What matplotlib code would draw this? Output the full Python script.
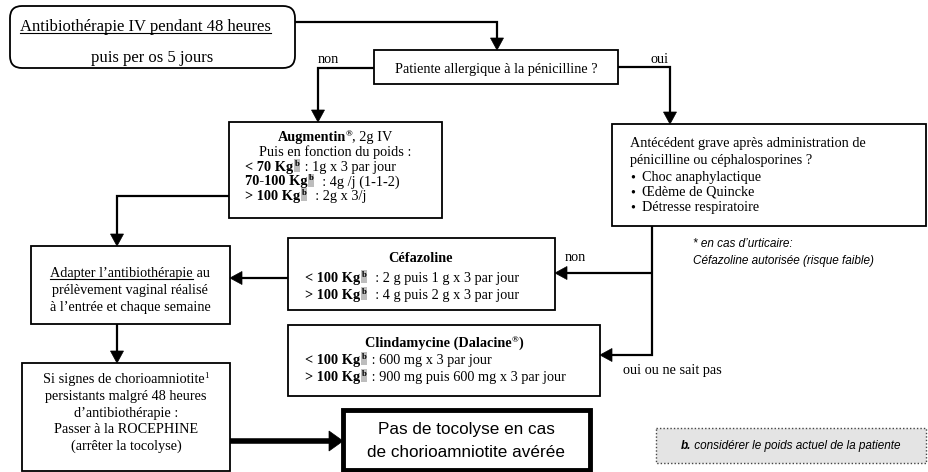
import matplotlib
matplotlib.use('Agg')
import matplotlib.pyplot as plt
from matplotlib.patches import Rectangle, FancyBboxPatch, Polygon

# --- texts of the flowchart
start_lines = ['Antibiothérapie IV pendant 48 heures', 'puis per os 5 jours']
question = 'Patiente allergique à la pénicilline ?'
branch_labels = ['non', 'oui', 'non', 'oui ou ne sait pas']
augmentin_title = ['Augmentin', '®', ', 2g IV']
augmentin_sub = 'Puis en fonction du poids :'
augmentin_doses = [('< 70 Kg', ' : 1g x 3 par jour'),
                   ('70-100 Kg', '  : 4g /j (1-1-2)'),
                   ('> 100 Kg', '  : 2g x 3/j')]
allergy_lines = ['Antécédent grave après administration de',
                 'pénicilline ou céphalosporines ?']
allergy_bullets = ['Choc anaphylactique', 'Œdème de Quincke', 'Détresse respiratoire']
urticaire_note = ['* en cas d\u2019urticaire:', 'Céfazoline autorisée (risque faible)']
cefazoline_title = 'Céfazoline'
cefazoline_doses = [('< 100 Kg', '  : 2 g puis 1 g x 3 par jour'),
                    ('> 100 Kg', '  : 4 g puis 2 g x 3 par jour')]
clinda_title = ['Clindamycine (Dalacine', '®', ')']
clinda_doses = [('< 100 Kg', ' : 600 mg x 3 par jour'),
                ('> 100 Kg', ' : 900 mg puis 600 mg x 3 par jour')]
adapt_lines = [('Adapter l\u2019antibiothérapie', ' au'),
               'prélèvement vaginal réalisé',
               'à l\u2019entrée et chaque semaine']
signes_lines = ['Si signes de chorioamniotite', 'persistants malgré 48 heures',
                'd\u2019antibiothérapie :', 'Passer à la ROCEPHINE',
                '(arrêter la tocolyse)']
tocolyse_lines = ['Pas de tocolyse en cas', 'de chorioamniotite avérée']
poids_note = ['b.', ' considérer le poids actuel de la patiente']

SERIF = 'Liberation Serif'
FS = 10.3

fig = plt.figure(figsize=(9.29, 4.72), dpi=100)
ax = fig.add_axes([0, 0, 1, 1])
ax.set_xlim(0, 929)
ax.set_ylim(472, 0)
ax.axis('off')
rend = fig.canvas.get_renderer()


def width(s, **kw):
    t = ax.text(0, 0, s, **kw)
    w = t.get_window_extent(rend).width
    t.remove()
    return w


def adv(s, **kw):
    # advance width, trailing spaces included
    return width(s + 'x', **kw) - width('x', **kw)


def rich(x, y, parts, ha='left', size=FS, family=SERIF, italic=False):
    """parts: (text, flags) ; b=bold s=superscript g=grey background u=underline"""
    items = []
    for s, st in parts:
        kw = dict(family=family, fontsize=size, color='black')
        if italic:
            kw['fontstyle'] = 'italic'
        dy = 0
        if 'b' in st:
            kw['fontweight'] = 'bold'
        if 's' in st:
            kw['fontsize'] = size * 0.62
            dy = -5
        items.append((s, kw, dy, st))
    ws = [adv(s, **kw) + (3 if 'g' in st else 0) for s, kw, _, st in items]
    if ha == 'center':
        x -= sum(ws) / 2
    for (s, kw, dy, st), w in zip(items, ws):
        if 'g' in st:
            ax.add_patch(Rectangle((x + 0.5, y - 12), w - 1.5, 13, fc='#bdbdbd', ec='none'))
            ax.text(x + 1.5, y + dy, s, va='baseline', ha='left', **kw)
        else:
            ax.text(x, y + dy, s, va='baseline', ha='left', **kw)
        if 'u' in st:
            ax.plot([x, x + w], [y + 2, y + 2], color='black', lw=0.8)
        x += w


def box(x0, y0, x1, y1, lw=1.3):
    ax.add_patch(Rectangle((x0, y0), x1 - x0, y1 - y0, fill=False, ec='black', lw=lw))


def arrow(pts, lw=1.6, L=12, hw=6.5):
    (xa, ya), (xb, yb) = pts[-2], pts[-1]
    d = ((xb - xa) ** 2 + (yb - ya) ** 2) ** 0.5
    ux, uy = (xb - xa) / d, (yb - ya) / d
    bx, by = xb - ux * L, yb - uy * L
    xs = [p[0] for p in pts[:-1]] + [bx]
    ys = [p[1] for p in pts[:-1]] + [by]
    ax.plot(xs, ys, color='black', lw=lw, solid_capstyle='butt', solid_joinstyle='miter')
    ax.add_patch(Polygon([(xb, yb), (bx - uy * hw, by + ux * hw), (bx + uy * hw, by - ux * hw)],
                         closed=True, fc='black', ec='black', lw=0.5))


# --- start box
ax.add_patch(FancyBboxPatch((10, 6), 285, 62, boxstyle='round,pad=0,rounding_size=12',
                            fill=False, ec='black', lw=1.3))
rich(20, 31, [(start_lines[0], 'u')], size=12)
rich(152, 62, [(start_lines[1], '')], ha='center', size=12)
arrow([(295, 22), (497, 22), (497, 50)])

# --- question
box(374, 50, 618, 84)
rich(496, 73, [(question, '')], ha='center')
rich(328, 63, [(branch_labels[0], '')], ha='center')
rich(660, 63, [(branch_labels[1], '')], ha='center')
arrow([(374, 68), (318, 68), (318, 122)])
arrow([(618, 67), (670, 67), (670, 124)])

# --- augmentin
box(229, 122, 442, 218)
rich(335, 141, [(augmentin_title[0], 'b'), (augmentin_title[1], 'bs'), (augmentin_title[2], '')],
     ha='center')
rich(335, 156, [(augmentin_sub, '')], ha='center')
for i, (k, v) in enumerate(augmentin_doses):
    rich(245, 171 + 14.5 * i, [(k, 'b'), ('b', 'bsg'), (v, '')])

# --- allergy history
box(612, 124, 926, 226)
for i, s in enumerate(allergy_lines):
    rich(630, 147 + 17 * i, [(s, '')])
for i, s in enumerate(allergy_bullets):
    rich(630, 181 + 15 * i, [('\u2022', '')])
    rich(642, 181 + 15 * i, [(s, '')])
for i, s in enumerate(urticaire_note):
    ax.text(693, 247 + 17 * i, s, family='Liberation Sans', style='italic', fontsize=8.5,
            va='baseline')

# --- branches from allergy box
arrow([(652, 226), (652, 355), (600, 355)])
arrow([(652, 273), (555, 273)])
rich(575, 261, [(branch_labels[2], '')], ha='center')
rich(623, 374, [(branch_labels[3], '')])

# --- cefazoline
box(288, 238, 555, 310)
rich(421, 262, [(cefazoline_title, 'b')], ha='center')
for i, (k, v) in enumerate(cefazoline_doses):
    rich(305, 282 + 17 * i, [(k, 'b'), ('b', 'bsg'), (v, '')])
arrow([(288, 278), (230, 278)])

# --- clindamycine
box(288, 325, 600, 396)
rich(444, 347, [(clinda_title[0], 'b'), (clinda_title[1], 'bs'), (clinda_title[2], 'b')],
     ha='center')
for i, (k, v) in enumerate(clinda_doses):
    rich(305, 364 + 17 * i, [(k, 'b'), ('b', 'bsg'), (v, '')])

# --- adapter
arrow([(229, 196), (117, 196), (117, 246)])
box(31, 246, 230, 324)
rich(130, 277, [(adapt_lines[0][0], 'u'), (adapt_lines[0][1], '')], ha='center')
rich(130, 294, [(adapt_lines[1], '')], ha='center')
rich(130, 311, [(adapt_lines[2], '')], ha='center')
arrow([(117, 324), (117, 363)])

# --- signes de chorioamniotite
box(22, 363, 230, 471)
rich(126, 383, [(signes_lines[0], ''), ('1', 's')], ha='center')
for i, s in enumerate(signes_lines[1:]):
    rich(126, 400 + 16.5 * i, [(s, '')], ha='center')

# --- pas de tocolyse
arrow([(230, 441), (343, 441)], lw=4, L=14, hw=10)
box(343, 410, 590, 470, lw=3.5)
for i, s in enumerate(tocolyse_lines):
    ax.text(466, 434 + 23 * i, s, family='Liberation Sans',
            fontsize=12.3, ha='center', va='baseline')

# --- footnote
ax.add_patch(Rectangle((656, 428), 270, 35, fc='#e4e4e4', ec='#444444', lw=1,
                       ls=(0, (1, 1.5))))
rich(791, 449, [(poids_note[0], 'b'), (poids_note[1], '')], ha='center', size=8.5,
     family='Liberation Sans', italic=True)

fig.savefig('out.png', dpi=100)
